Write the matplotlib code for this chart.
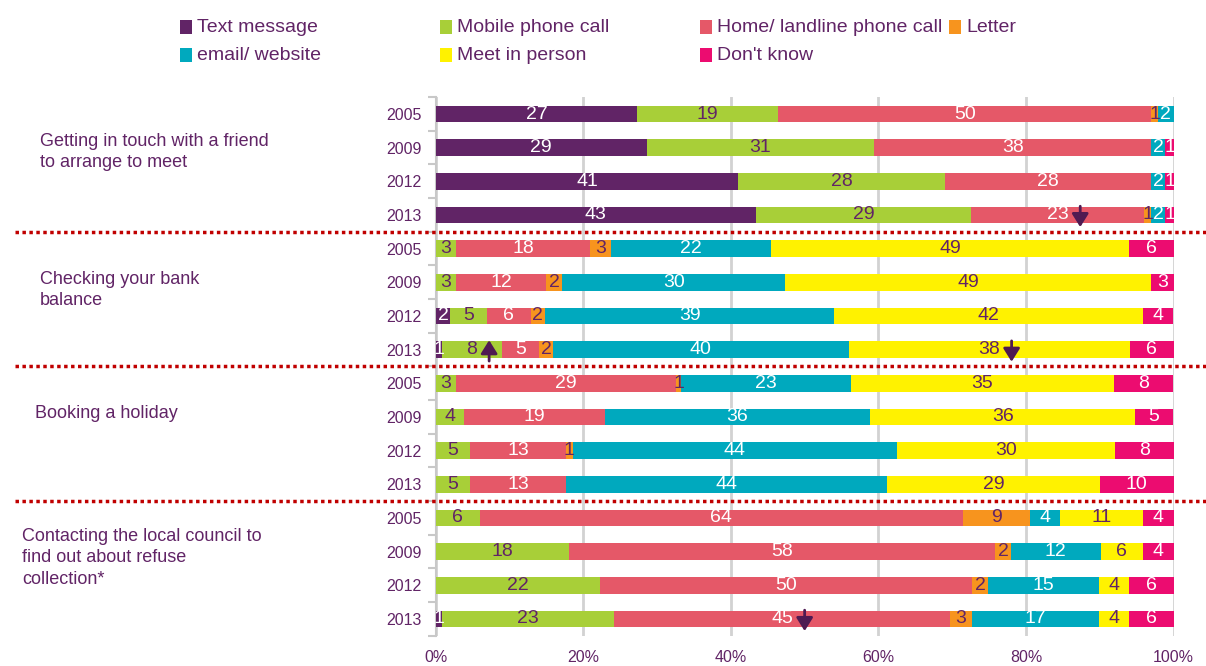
import matplotlib
matplotlib.use("Agg")
import matplotlib.pyplot as plt
from matplotlib.patches import Rectangle
from matplotlib.lines import Line2D
from matplotlib.transforms import blended_transform_factory
import numpy as np

plt.rcParams['font.family'] = ['Liberation Sans', 'DejaVu Sans']

# ---------------- data ----------------
groups = ["Getting in touch with a friend\nto arrange to meet",
          "Checking your bank\nbalance",
          "Booking a holiday",
          "Contacting the local council to\nfind out about refuse\ncollection*"]
years = ["2005", "2009", "2012", "2013"]
series = ["Text message", "Mobile phone call", "Home/ landline phone call", "Letter",
          "email/ website", "Meet in person", "Don't know"]

# segment widths (% of respondents) per bar, top to bottom
text_msg = [27.3, 28.6, 41.0, 43.4, 0, 0, 2.0, 0.85, 0, 0, 0, 0, 0, 0, 0, 0.9]
mobile   = [19.1, 30.8, 28.0, 29.2, 2.8, 2.8, 4.9, 8.1, 2.8, 3.8, 4.7, 4.7, 6.0, 18.0, 22.3, 23.3]
home     = [50.6, 37.6, 28.0, 23.4, 18.1, 12.2, 6.0, 5.1, 29.7, 19.1, 12.9, 12.9, 65.4, 57.8, 50.4, 45.5]
letter   = [0.85, 0, 0, 1.0, 2.8, 2.1, 1.9, 1.8, 0.8, 0, 1.0, 0, 9.2, 2.2, 2.2, 3.0]
email    = [2.15, 1.9, 1.9, 1.9, 21.8, 30.3, 39.2, 40.1, 23.0, 36.0, 43.9, 43.6, 4.0, 12.1, 15.0, 17.2]
meet     = [0, 0, 0, 0, 48.5, 49.6, 41.8, 38.1, 35.6, 35.9, 29.6, 28.8, 11.3, 5.8, 4.1, 4.1]
dont_know = [0, 1.1, 1.1, 1.1, 6.0, 3.0, 4.1, 6.0, 8.0, 5.1, 8.0, 10.0, 4.1, 4.1, 6.1, 6.1]

# printed labels (0 = no label)
text_lbl   = [27, 29, 41, 43, 0, 0, 2, 1, 0, 0, 0, 0, 0, 0, 0, 1]
mobile_lbl = [19, 31, 28, 29, 3, 3, 5, 8, 3, 4, 5, 5, 6, 18, 22, 23]
home_lbl   = [50, 38, 28, 23, 18, 12, 6, 5, 29, 19, 13, 13, 64, 58, 50, 45]
letter_lbl = [1, 0, 0, 1, 3, 2, 2, 2, 1, 0, 1, 0, 9, 2, 2, 3]
email_lbl  = [2, 2, 2, 2, 22, 30, 39, 40, 23, 36, 44, 44, 4, 12, 15, 17]
meet_lbl   = [0, 0, 0, 0, 49, 49, 42, 38, 35, 36, 30, 29, 11, 6, 4, 4]
dk_lbl     = [0, 1, 1, 1, 6, 3, 4, 6, 8, 5, 8, 10, 4, 4, 6, 6]

# significant change arrows: (bar index, series index, direction)
arrows = [(3, 2, "down"), (7, 1, "up"), (7, 5, "down"), (15, 2, "down")]

# ---------------- style ----------------
colors = ["#612466", "#a8cf38", "#e55868", "#f7941e", "#00a9be", "#fff200", "#ec0c70"]
purple = "#612466"
lbl_colors = ["white", purple, "white", purple, "white", purple, "white"]

values = [text_msg, mobile, home, letter, email, meet, dont_know]
labels = [text_lbl, mobile_lbl, home_lbl, letter_lbl, email_lbl, meet_lbl, dk_lbl]

fig = plt.figure(figsize=(12.06, 6.66), dpi=100)
ax = fig.add_axes([0.3613, 0.0454, 0.6118, 0.8087])

n = len(groups) * len(years)
ypos = np.arange(n)
left = np.zeros(n)
for s, (vals, lbls) in enumerate(zip(values, labels)):
    vals = np.array(vals, dtype=float)
    ax.barh(ypos, vals, left=left, height=0.5, color=colors[s], zorder=3, linewidth=0)
    for i in range(n):
        if lbls[i]:
            ax.text(left[i] + vals[i] / 2, ypos[i], str(lbls[i]), ha="center", va="center",
                    fontsize=14, color=lbl_colors[s], zorder=5)
    left += vals

# arrows
px_per_unit = (1173.5 - 435.7) / 100.0
for (i, s, d) in arrows:
    base = sum(values[k][i] for k in range(s))
    cx = base + values[s][i] / 2
    nd = len(str(labels[s][i]))
    x = cx + (nd * 10.5 / 2 + 12) / px_per_unit
    if d == "down":
        xy, xyt = (x, i + 0.36), (x, i - 0.26)
    else:
        xy, xyt = (x, i - 0.28), (x, i + 0.34)
    ax.annotate("", xy=xy, xytext=xyt,
                arrowprops=dict(arrowstyle="-|>,head_length=0.4,head_width=0.25",
                                color="#4f1a52", lw=2.0, shrinkA=0, shrinkB=0,
                                mutation_scale=20),
                zorder=6)

ax.set_ylim(n - 0.5, -0.5)
ax.set_xlim(0, 100)
ax.set_xticks(np.arange(0, 101, 20))
ax.set_xticklabels([f"{v}%" for v in range(0, 101, 20)])
ax.set_yticks(ypos)
ax.set_yticklabels(years * len(groups))
ax.set_yticks(np.arange(-0.5, n, 1.0), minor=True)
ax.tick_params(axis="y", which="major", length=0, pad=10, labelsize=11.5, labelcolor=purple)
ax.tick_params(axis="y", which="minor", length=6, width=1.5, color="#c8c8c8")
ax.tick_params(axis="x", length=0, pad=10, labelsize=11.5, labelcolor=purple)
ax.grid(axis="x", color="#d2d2d2", linewidth=2, zorder=0)
ax.set_axisbelow(True)
for sp in ["top", "right", "bottom"]:
    ax.spines[sp].set_visible(False)
ax.spines["left"].set_color("#c8c8c8")
ax.spines["left"].set_linewidth(1.5)

# group separators (dotted red lines)
trans = blended_transform_factory(fig.transFigure, ax.transData)
for g in range(1, len(groups)):
    yb = g * len(years) - 0.5
    fig.add_artist(Line2D([15 / 1206, 1.0], [yb, yb], transform=trans, color="#c00000",
                          linestyle=(0, (1, 1)), linewidth=2.5, clip_on=False))

# group labels
group_label_x = [40, 40, 35, 22]
group_label_y = [152, 290, 413, 558]
for g, txt in enumerate(groups):
    fig.text(group_label_x[g] / 1206, 1 - group_label_y[g] / 666, txt, ha="left", va="center",
             fontsize=13, color=purple, linespacing=1.38)

# legend (manual, row-major)
leg_pos = [(180, 27), (440, 27), (700, 27), (949, 27), (180, 55), (440, 55), (700, 55)]
for s, name in enumerate(series):
    x, y = leg_pos[s]
    fig.add_artist(Rectangle((x / 1206, 1 - (y + 7) / 666), 12 / 1206, 14 / 666,
                             transform=fig.transFigure, color=colors[s], linewidth=0))
    fig.text((x + 17) / 1206, 1 - y / 666, name, ha="left", va="center", fontsize=14,
             color=purple)

fig.savefig("out.png", dpi=100)
